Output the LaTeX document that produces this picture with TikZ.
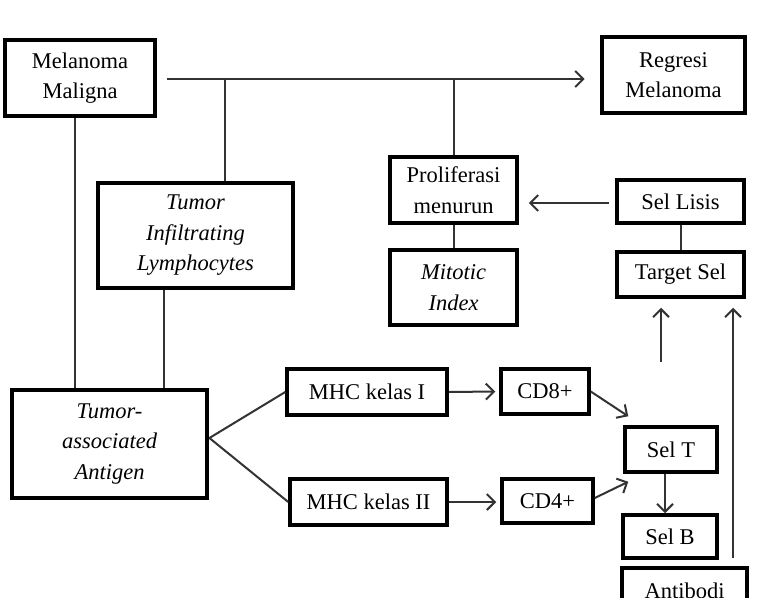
\documentclass[tikz,border=0pt]{standalone}
\usepackage{fontspec}
\setmainfont{Liberation Serif}
\usetikzlibrary{arrows.meta}
\begin{document}
\begin{tikzpicture}[x=1pt,y=-1pt,
  box/.style={draw=black, line width=3.5pt, align=center, inner sep=0pt,
    font=\fontsize{22.5}{30.5}\selectfont, fill=white},
  tbox/.style={box, line width=4.8pt},
  conn/.style={draw=black!80, line width=2pt},
  arr/.style={conn, -{Straight Barb[length=8pt,width=16pt,line width=2pt]}}]
\useasboundingbox (0,0) rectangle (757,597);
\clip (0,0) rectangle (757,597);
\fill[white] (0,0) rectangle (757,597);

\node[tbox, minimum width=150pt, minimum height=76pt] (mm) at (80,78) {Melanoma\\Maligna};
\node[tbox, minimum width=143pt, minimum height=76pt] (rm) at (673.5,75) {Regresi\\Melanoma};
\node[tbox, minimum width=195pt, minimum height=105pt] (til) at (195.5,235.5) {\itshape Tumor\\\itshape Infiltrating\\\itshape Lymphocytes};
\node[box, minimum width=127pt, minimum height=66pt] (pm) at (453.5,190) {Proliferasi\\menurun};
\node[box, minimum width=127pt, minimum height=75pt] (mi) at (453.5,287.5) {\itshape Mitotic\\\itshape Index};
\node[box, minimum width=127pt, minimum height=43pt] (sl) at (680.5,201.5) {Sel Lisis};
\node[box, minimum width=127pt, minimum height=45pt] (ts) at (680.5,274.5) {Target Sel};
\node[tbox, minimum width=195pt, minimum height=108pt] (taa) at (109.5,444) {\itshape Tumor-\\\itshape associated\\\itshape Antigen};
\node[box, minimum width=160pt, minimum height=46pt] (m1) at (367,392) {MHC kelas I};
\node[box, minimum width=88pt, minimum height=45pt] (cd8) at (545,391.5) {CD8+};
\node[box, minimum width=157pt, minimum height=46pt] (m2) at (368.5,502) {MHC kelas II};
\node[box, minimum width=91pt, minimum height=44pt] (cd4) at (547.5,501) {CD4+};
\node[box, minimum width=92pt, minimum height=45pt] (st) at (671,449.5) {Sel T};
\node[box, minimum width=94pt, minimum height=43pt] (sb) at (670,536.5) {Sel B};
\node[tbox, minimum width=125pt, minimum height=46pt] (ab) at (684.5,591) {Antibodi};

% top line
\coordinate (tl) at ([xshift=10pt]mm.east);
\coordinate (j1) at (225,79);
\draw[arr] (tl |- j1) -- ([xshift=-15pt]rm.west |- j1);
\draw[conn] (j1) -- (j1 |- til.north);
\draw[conn] (pm.north |- j1) -- (pm.north);
% left verticals
\draw[conn] ([xshift=-5pt]mm.south) -- ([xshift=-5pt]mm.south |- taa.north);
\draw[conn] ([xshift=-31.5pt]til.south) -- ([xshift=-31.5pt]til.south |- taa.north);
% middle
\draw[conn] (pm.south) -- (mi.north);
\draw[conn] (sl.south) -- (ts.north);
\coordinate (sla) at ([xshift=-6pt,yshift=-1.5pt]sl.west);
\draw[arr] (sla) -- ([xshift=10pt]pm.east |- sla);
% antigen branches
\draw[conn] ([yshift=6pt]taa.east) -- (m1.west);
\draw[conn] ([yshift=6pt]taa.east) -- (m2.west);
\draw[arr] (m1.east) -- ([xshift=-4pt]cd8.west);
\draw[arr] (m2.east) -- ([xshift=-4pt]cd4.west |- m2.east);
\draw[arr] (cd8.east) -- ([shift={(5pt,9pt)}]st.north west);
\draw[arr] ([yshift=3pt]cd4.east) -- ([shift={(5pt,-8pt)}]st.south west);
\draw[arr] ([xshift=-6pt]st.south) -- ([xshift=-6pt]st.south |- sb.north);
% arrows into Target Sel
\coordinate (fa) at (661,362);
\draw[arr] (fa) -- ([yshift=-9pt]fa |- ts.south);
\coordinate (fb) at ([xshift=48.5pt,yshift=8pt]ab.north);
\draw[arr] (fb) -- ([yshift=-9pt]fb |- ts.south);
\end{tikzpicture}
\end{document}
